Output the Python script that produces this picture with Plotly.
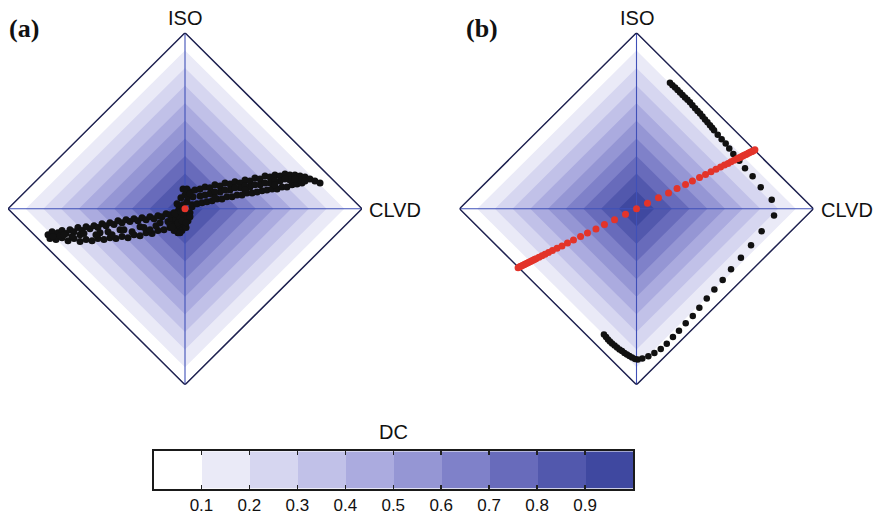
import plotly.graph_objects as go

# ---------------- data ----------------
dc_levels = [0.0, 0.1, 0.2, 0.3, 0.4, 0.5, 0.6, 0.7, 0.8, 0.9]
band_colors = ["#FFFFFF", "#EAEAF7", "#D6D6F0", "#C1C1E8", "#ABABDF",
               "#9596D4", "#7F81C9", "#686BBB", "#5258AD", "#3F48A0"]
cbar_centers = [0.05, 0.15, 0.25, 0.35, 0.45, 0.55, 0.65, 0.75, 0.85, 0.95]
cbar_ticks = [0.1, 0.2, 0.3, 0.4, 0.5, 0.6, 0.7, 0.8, 0.9]
cbar_ticktext = ["0.1", "0.2", "0.3", "0.4", "0.5", "0.6", "0.7", "0.8", "0.9"]

# panel (a): scattered solutions (CLVD, ISO)
a_x = [-0.774, -0.751, -0.734, -0.718, -0.695, -0.672, -0.650, -0.627, -0.605, -0.582, -0.559, -0.537,
       -0.514, -0.492, -0.469, -0.446, -0.424, -0.401, -0.379, -0.356, -0.333, -0.311, -0.288, -0.266,
       -0.243, -0.220, -0.198, -0.175, -0.153, -0.130, -0.107, -0.085, -0.062, -0.040,
       -0.763, -0.729, -0.695, -0.661, -0.627, -0.593, -0.559, -0.525, -0.492, -0.458, -0.424, -0.390,
       -0.356, -0.322, -0.288, -0.254, -0.220, -0.186, -0.153, -0.119, -0.085, -0.051, -0.028,
       -0.706, -0.593, -0.480, -0.367, -0.254, -0.141,
       -0.746, -0.684, -0.638, -0.571, -0.503, -0.435, -0.412, -0.345, -0.299, -0.232, -0.198, -0.164,
       -0.096, -0.073,
       -0.073, -0.051, -0.028, -0.006, -0.051, -0.028, -0.006, 0.017, -0.040, -0.017, 0.006, 0.028,
       -0.011, 0.011, -0.023, 0.0, 0.028, -0.034, -0.056, 0.040, 0.017, -0.023, 0.006, -0.085, -0.062,
       -0.040, -0.017, 0.006, 0.028, -0.073, -0.028, -0.011, 0.011, 0.045, -0.045,
       0.028, 0.056, 0.085, 0.113, 0.141, 0.169, 0.198, 0.226, 0.254, 0.282, 0.311, 0.339, 0.367, 0.395,
       0.424, 0.452, 0.480, 0.508, 0.537, 0.565, 0.593, 0.621, 0.650, 0.678, 0.706, 0.734, 0.763,
       0.040, 0.068, 0.096, 0.124, 0.153, 0.181, 0.209, 0.237, 0.266, 0.294, 0.322, 0.350, 0.379, 0.407,
       0.435, 0.463, 0.492, 0.520, 0.548, 0.576, 0.605, 0.633, 0.661,
       0.085, 0.141, 0.198, 0.254, 0.311, 0.367, 0.424, 0.480, 0.537, 0.593, 0.650,
       0.113, 0.169, 0.226, 0.282, 0.339, 0.395, 0.452, 0.508, 0.565, 0.621, 0.678, 0.169, 0.339, 0.508]
a_y = [-0.147, -0.130, -0.153, -0.136, -0.124, -0.141, -0.119, -0.130, -0.107, -0.124, -0.102, -0.113,
       -0.096, -0.107, -0.085, -0.096, -0.079, -0.090, -0.068, -0.079, -0.062, -0.073, -0.056, -0.068,
       -0.051, -0.062, -0.045, -0.056, -0.040, -0.045, -0.028, -0.034, -0.023, -0.017,
       -0.169, -0.175, -0.164, -0.181, -0.169, -0.186, -0.175, -0.181, -0.169, -0.175, -0.164, -0.169,
       -0.158, -0.164, -0.147, -0.153, -0.136, -0.141, -0.124, -0.119, -0.107, -0.096, -0.085,
       -0.153, -0.147, -0.136, -0.119, -0.102, -0.079,
       -0.158, -0.147, -0.158, -0.141, -0.147, -0.130, -0.147, -0.119, -0.130, -0.107, -0.119, -0.096,
       -0.073, -0.051,
       -0.068, -0.056, -0.045, -0.034, -0.113, -0.102, -0.090, -0.068, -0.136, -0.124, -0.107, -0.023,
       0.023, 0.040, 0.062, 0.079, 0.096, 0.0, -0.028, 0.023, 0.068, -0.017, -0.056, -0.090, -0.124,
       -0.079, -0.068, -0.079, -0.045, -0.102, -0.136, 0.113, 0.113, 0.068, 0.028,
       0.085, 0.107, 0.113, 0.124, 0.119, 0.136, 0.130, 0.147, 0.141, 0.153, 0.147, 0.164, 0.158, 0.175,
       0.169, 0.186, 0.181, 0.192, 0.186, 0.198, 0.192, 0.192, 0.186, 0.181, 0.169, 0.158, 0.147,
       0.011, 0.028, 0.034, 0.040, 0.045, 0.056, 0.056, 0.068, 0.068, 0.079, 0.079, 0.090, 0.090, 0.096,
       0.102, 0.107, 0.113, 0.113, 0.124, 0.124, 0.136, 0.141, 0.147,
       0.073, 0.085, 0.096, 0.107, 0.119, 0.124, 0.136, 0.147, 0.158, 0.164, 0.164,
       0.079, 0.096, 0.107, 0.119, 0.130, 0.136, 0.147, 0.158, 0.169, 0.169, 0.158, 0.062, 0.107, 0.136]
a_ref_x = [0.0]
a_ref_y = [0.0]

# panel (b): black trajectory and red trajectory
b_curve_x = [0.189, 0.203, 0.218, 0.232, 0.246, 0.260, 0.274, 0.288, 0.302, 0.316, 0.331, 0.345,
             0.359, 0.373, 0.387, 0.401, 0.415, 0.427, 0.438,
             0.459, 0.481, 0.504, 0.524, 0.547, 0.581, 0.613, 0.656, 0.702, 0.764, 0.777, 0.707,
             0.647, 0.590, 0.534, 0.487, 0.440, 0.397, 0.355, 0.318, 0.278, 0.240, 0.206, 0.171,
             0.137, 0.101, 0.067, 0.033, 0.007,
             -0.008, -0.025, -0.040, -0.054, -0.068, -0.082, -0.096, -0.110, -0.124, -0.138,
             -0.150, -0.161, -0.172, -0.184]
b_curve_y = [0.716, 0.702, 0.689, 0.675, 0.661, 0.647, 0.633, 0.619, 0.605, 0.588, 0.571, 0.556,
             0.542, 0.525, 0.508, 0.492, 0.475, 0.460, 0.446,
             0.420, 0.395, 0.371, 0.343, 0.311, 0.273, 0.230, 0.185, 0.123, 0.051, -0.038, -0.128,
             -0.207, -0.279, -0.343, -0.405, -0.459, -0.510, -0.563, -0.610, -0.651, -0.693, -0.729,
             -0.767, -0.797, -0.819, -0.838, -0.851, -0.857,
             -0.853, -0.845, -0.836, -0.828, -0.819, -0.808, -0.799, -0.788, -0.777, -0.766,
             -0.754, -0.743, -0.729, -0.715]
b_line_x = [-0.669, -0.660, -0.653, -0.645, -0.636, -0.628, -0.619, -0.611, -0.602, -0.594, -0.585,
            -0.577, -0.568, -0.551, -0.534, -0.517, -0.497,
            -0.475, -0.449, -0.421, -0.390, -0.356, -0.316, -0.277, -0.229, -0.181, -0.124, -0.062,
            0.0, 0.062, 0.124, 0.181, 0.229, 0.277, 0.316, 0.356, 0.390, 0.421, 0.449, 0.475, 0.497,
            0.517, 0.534, 0.551, 0.568, 0.577, 0.585, 0.594, 0.602, 0.611, 0.619, 0.628, 0.636,
            0.645, 0.653, 0.660, 0.669]
b_line_y = [-0.335, -0.330, -0.326, -0.322, -0.318, -0.314, -0.309, -0.305, -0.301, -0.297, -0.292,
            -0.288, -0.284, -0.276, -0.267, -0.258, -0.249,
            -0.237, -0.225, -0.211, -0.195, -0.178, -0.158, -0.138, -0.115, -0.090, -0.062, -0.031,
            0.0, 0.031, 0.062, 0.090, 0.115, 0.138, 0.158, 0.178, 0.195, 0.211, 0.225, 0.237, 0.249,
            0.258, 0.267, 0.276, 0.284, 0.288, 0.292, 0.297, 0.301, 0.305, 0.309, 0.314, 0.318,
            0.322, 0.326, 0.330, 0.335]

# ---------------- styles ----------------
W, H = 878, 515
OUTLINE = "#1E2150"
AXIS_BLUE = "#3F50B8"
BLACK = "#111111"
RED = "#E3342A"
SANS = "Liberation Sans"
SERIF = "Liberation Serif"
TXT = "#111111"

fig = go.Figure()


def add_diamond(xa, ya):
    for lev, col in zip(dc_levels, band_colors):
        r = 1.0 - lev
        fig.add_trace(go.Scatter(x=[r, 0, -r, 0, r], y=[0, r, 0, -r, 0], mode="lines",
                                 fill="toself", fillcolor=col, line=dict(width=0),
                                 hoverinfo="skip", showlegend=False, xaxis=xa, yaxis=ya))
    fig.add_trace(go.Scatter(x=[-1, 1], y=[0, 0], mode="lines",
                             line=dict(color=AXIS_BLUE, width=1.1), hoverinfo="skip",
                             showlegend=False, xaxis=xa, yaxis=ya, cliponaxis=False))
    fig.add_trace(go.Scatter(x=[0, 0], y=[-1, 1], mode="lines",
                             line=dict(color=AXIS_BLUE, width=1.1), hoverinfo="skip",
                             showlegend=False, xaxis=xa, yaxis=ya, cliponaxis=False))
    fig.add_trace(go.Scatter(x=[1, 0, -1, 0, 1], y=[0, 1, 0, -1, 0], mode="lines",
                             line=dict(color=OUTLINE, width=1.5), hoverinfo="skip",
                             showlegend=False, xaxis=xa, yaxis=ya, cliponaxis=False))


add_diamond("x", "y")
fig.add_trace(go.Scatter(x=a_x, y=a_y, mode="markers",
                         marker=dict(color=BLACK, size=7, line=dict(width=0)),
                         showlegend=False, xaxis="x", yaxis="y"))
fig.add_trace(go.Scatter(x=a_ref_x, y=a_ref_y, mode="markers",
                         marker=dict(color=RED, size=7, line=dict(width=0)),
                         showlegend=False, xaxis="x", yaxis="y"))

add_diamond("x2", "y2")
fig.add_trace(go.Scatter(x=b_curve_x, y=b_curve_y, mode="markers",
                         marker=dict(color=BLACK, size=6.5, line=dict(width=0)),
                         showlegend=False, xaxis="x2", yaxis="y2", cliponaxis=False))
fig.add_trace(go.Scatter(x=b_line_x, y=b_line_y, mode="markers",
                         marker=dict(color=RED, size=7, line=dict(width=0)),
                         showlegend=False, xaxis="x2", yaxis="y2", cliponaxis=False))

# colour bar drawn as a heatmap strip
cscale = []
for i, col in enumerate(band_colors):
    cscale.append([i / len(band_colors), col])
    cscale.append([(i + 1) / len(band_colors), col])
fig.add_trace(go.Heatmap(x=cbar_centers, y=[0.5], z=[cbar_centers], zmin=0, zmax=1,
                         colorscale=cscale, showscale=False, hoverinfo="skip",
                         xaxis="x3", yaxis="y3"))

hidden = dict(visible=False, range=[-1, 1], fixedrange=True)
ydom = [(H - 387) / H, (H - 33) / H]
fig.update_layout(
    width=W, height=H, margin=dict(l=0, r=0, t=0, b=0),
    paper_bgcolor="white", plot_bgcolor="rgba(0,0,0,0)",
    xaxis=dict(domain=[8 / W, 362 / W], **hidden),
    yaxis=dict(domain=ydom, **hidden),
    xaxis2=dict(domain=[459.5 / W, 813.5 / W], **hidden),
    yaxis2=dict(domain=ydom, **hidden),
    xaxis3=dict(domain=[153.5 / W, 633 / W], range=[0, 1], tickvals=cbar_ticks,
                ticktext=cbar_ticktext, ticks="inside", ticklen=4, tickwidth=1.5,
                tickcolor="#222222", showline=True, linewidth=2, linecolor="#1A1A1A",
                mirror="ticks", showgrid=False, zeroline=False,
                tickfont=dict(family=SANS, size=17, color=TXT), anchor="y3"),
    yaxis3=dict(domain=[(H - 491.5) / H, (H - 454) / H], range=[0, 1], showline=True,
                linewidth=2, linecolor="#1A1A1A", mirror=True, ticks="",
                showticklabels=False, showgrid=False, zeroline=False, anchor="x3"),
    showlegend=False,
)

ann = []
for xr, yr in (("x", "y"), ("x2", "y2")):
    ann.append(dict(x=0, y=1, xref=xr, yref=yr, text="ISO", showarrow=False,
                    xanchor="center", yanchor="bottom", yshift=2,
                    font=dict(family=SANS, size=20, color=TXT)))
    ann.append(dict(x=1, y=0, xref=xr, yref=yr, text="CLVD", showarrow=False,
                    xanchor="left", yanchor="middle", xshift=5, yshift=-1,
                    font=dict(family=SANS, size=20, color=TXT)))
ann.append(dict(x=7 / W, y=(H - 29) / H, xref="paper", yref="paper", text="<b>(a)</b>",
                showarrow=False, xanchor="left", yanchor="middle",
                font=dict(family=SERIF, size=26, color=TXT)))
ann.append(dict(x=464 / W, y=(H - 29) / H, xref="paper", yref="paper", text="<b>(b)</b>",
                showarrow=False, xanchor="left", yanchor="middle",
                font=dict(family=SERIF, size=26, color=TXT)))
ann.append(dict(x=393 / W, y=(H - 435) / H, xref="paper", yref="paper", text="DC",
                showarrow=False, xanchor="center", yanchor="middle",
                font=dict(family=SANS, size=20, color=TXT)))
fig.update_layout(annotations=ann)

fig.write_html("out.html", config={"displayModeBar": False, "staticPlot": True},
               post_script="document.body.style.margin='0';")
